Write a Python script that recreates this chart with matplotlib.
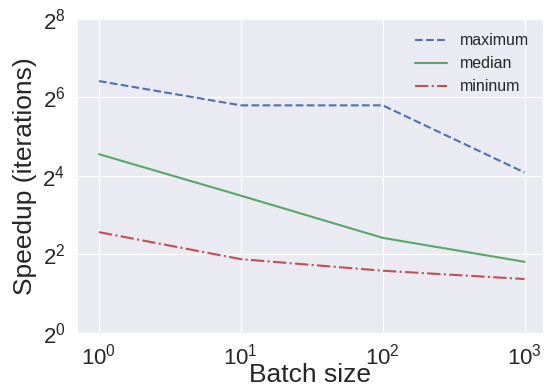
import matplotlib
matplotlib.use("Agg")
import matplotlib.pyplot as plt
import seaborn as sns

# Data
batch_size = [1, 10, 100, 1000]
maximum = [85.5, 55.7, 55.7, 17.0]
median = [23.5, 11.3, 5.36, 3.51]
minimum = [5.93, 3.68, 3.0, 2.59]

sns.set_style("darkgrid")
plt.rcParams["font.family"] = ["Liberation Sans", "DejaVu Sans"]
plt.rcParams["mathtext.fontset"] = "custom"
plt.rcParams["mathtext.rm"] = "Liberation Sans"
plt.rcParams["mathtext.it"] = "Liberation Sans:italic"
plt.rcParams["mathtext.bf"] = "Liberation Sans:bold"

fig = plt.figure(figsize=(5.48, 3.88), dpi=100)
ax = fig.add_axes([0.1405, 0.142, 0.8505, 0.809])

ax.plot(batch_size, maximum, "--", color="#4C72B0", lw=1.5, label="maximum")
ax.plot(batch_size, median, "-", color="#55A868", lw=1.5, label="median")
ax.plot(batch_size, minimum, "-.", color="#C44E52", lw=1.5, label="mininum")

ax.set_xscale("log")
ax.set_yscale("log", base=2)
ax.set_xlim(0.7, 1350)
ax.set_ylim(1, 256)
ax.set_xticks([1, 10, 100, 1000])
ax.set_yticks([1, 4, 16, 64, 256])
ax.minorticks_off()
ax.tick_params(labelsize=16)
ax.tick_params(axis="x", pad=4)
ax.tick_params(axis="y", pad=5)

ax.set_xlabel("Batch size", fontsize=19)
ax.xaxis.set_label_coords(0.5, -0.155)
ax.xaxis.label.set_va("baseline")
ax.set_ylabel("Speedup (iterations)", fontsize=19, labelpad=4)

ax.legend(loc="upper right", fontsize=11.5, frameon=False)

fig.savefig("out.png", dpi=100)
